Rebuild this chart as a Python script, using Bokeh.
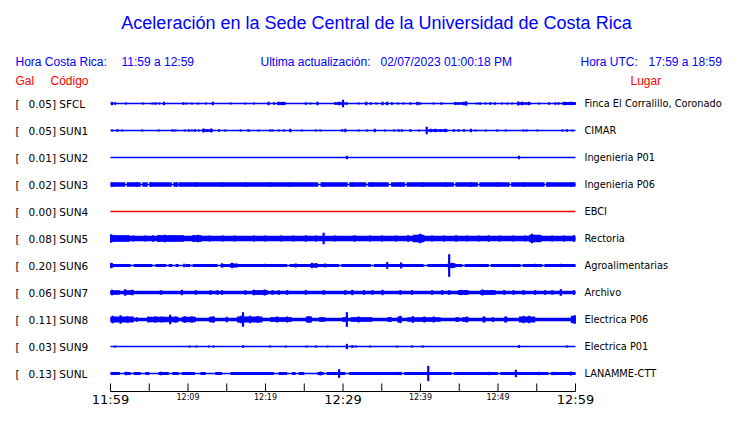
from bokeh.plotting import figure
from bokeh.models import Range1d, Label
from bokeh.embed import file_html
from bokeh.resources import INLINE
from bokeh.core.properties import value

# ---------------- data ----------------
TITLE = "Aceleración en la Sede Central de la Universidad de Costa Rica"
HORA_CR = "11:59 a 12:59"
HORA_UTC = "17:59 a 18:59"
ACTUALIZACION = "02/07/2023 01:00:18 PM"

STATIONS = ["SFCL", "SUN1", "SUN2", "SUN3", "SUN4", "SUN5", "SUN6", "SUN7", "SUN8", "SUN9", "SUNL"]
GAL = [0.05, 0.05, 0.01, 0.02, 0.00, 0.08, 0.20, 0.06, 0.11, 0.03, 0.13]
PLACES = ["Finca El Corralillo, Coronado", "CIMAR", "Ingenieria P01", "Ingenieria P06", "EBCI",
          "Rectoria", "Agroalimentarias", "Archivo", "Electrica P06", "Electrica P01", "LANAMME-CTT"]

# time axis: minutes after 11:59
T_START, T_END = 0, 60
TICK_MINUTES = list(range(0, 61, 5))
MAJOR_TICKS = [0, 30, 60]
MAJOR_LABELS = ["11:59", "12:29", "12:59"]
MINOR_TICKS = [10, 20, 40, 50]
MINOR_LABELS = ["12:09", "12:19", "12:39", "12:49"]

# noise floor half-amplitude of each trace (relative units), 0 = quiet trace
NOISE = [0, 0, 0, 6.5, 0, 8, 4.5, 5, 5.5, 0, 4.5]

# quiet intervals (minutes) where the noise floor drops to the bare trace
QUIET_SUN3 = [(1.9, 2.1), (3.9, 4.1), (4.8, 5.0), (7.9, 8.1), (8.6, 8.8), (26.8, 27.1), (30.6, 30.8),
              (33.0, 33.2), (35.9, 36.2), (38.0, 38.2), (44.3, 44.5), (47.4, 47.6), (51.5, 51.7), (56.0, 56.2)]
QUIET_SUN6 = [(2.6, 3.0), (5.4, 5.8), (7.2, 7.5), (8.0, 8.4), (8.8, 9.7), (10.3, 10.6), (13.8, 14.2),
              (22.8, 23.1), (29.5, 29.8), (33.6, 34.0), (40.4, 40.9), (45.4, 45.7), (48.8, 49.1),
              (52.9, 53.2), (55.7, 56.0)]
QUIET_SUNL = [(1.2, 1.8), (2.6, 3.0), (3.9, 4.5), (5.0, 6.2), (7.5, 8.0), (8.8, 9.2), (10.9, 11.6),
              (12.3, 13.5), (14.4, 15.5), (21.1, 21.7), (22.8, 23.4), (23.9, 24.3), (25.0, 26.7),
              (27.5, 27.9), (30.3, 30.8), (37.6, 37.9), (44.0, 44.3), (50.0, 50.3), (56.5, 56.8)]

# bursts: (start minute, end minute, half-amplitude)
BURSTS_SFCL = [(21.5, 22.6, 4.5), (29.0, 30.3, 4), (44.3, 46.0, 4), (52.5, 54.2, 4), (58.3, 60.0, 4.5)]
BURSTS_SUN1 = [(11.8, 13.2, 4), (41.0, 43.5, 4)]
BURSTS_SUN5 = [(0.0, 2.5, 10), (6.0, 9.5, 10), (10.5, 11.8, 10), (39.0, 40.5, 11), (54.0, 55.5, 11)]
BURSTS_SUN6 = [(15.4, 16.2, 6), (25.8, 26.8, 6), (43.5, 44.5, 7)]
BURSTS_SUN7 = [(0.0, 1.2, 7), (1.7, 3.0, 7), (18.3, 20.3, 7), (44.8, 46.2, 7), (47.7, 49.7, 7)]
BURSTS_SUN8 = [(0.0, 3.0, 9), (4.7, 8.8, 8), (9.2, 11.0, 8), (12.7, 13.5, 8), (16.3, 19.6, 9),
               (20.6, 23.4, 7), (25.2, 26.0, 9), (26.9, 27.7, 7), (29.9, 30.5, 7), (31.0, 33.8, 7),
               (35.7, 36.3, 7), (37.0, 37.6, 9), (38.3, 42.6, 7), (44.5, 45.0, 7), (45.4, 46.2, 7),
               (48.0, 48.4, 9), (49.2, 49.5, 7), (50.8, 51.2, 8), (52.7, 54.8, 9), (59.4, 60.0, 11)]

# spikes: (minute, half-amplitude)
SPIKES_SFCL = [(0.2, 5), (0.6, 4), (2.0, 3), (4.2, 3), (5.4, 3), (5.8, 4), (6.3, 3), (6.9, 5), (9.4, 4),
               (9.8, 3), (10.5, 3), (11.3, 3), (12.3, 3), (13.2, 5), (15.5, 3), (17.4, 3), (18.5, 3),
               (20.4, 5), (21.1, 4), (21.7, 5), (22.2, 5), (25.2, 4), (25.8, 3), (26.7, 5), (29.0, 4),
               (29.5, 5), (30.0, 11), (30.5, 4), (32.0, 3), (33.0, 5), (33.6, 4), (34.3, 3), (35.1, 5),
               (35.7, 5), (36.3, 4), (37.1, 3), (37.8, 3), (38.7, 4), (39.6, 5), (39.9, 4), (41.7, 3),
               (42.7, 4), (44.5, 4), (45.6, 5), (45.9, 7), (47.3, 3), (47.7, 4), (48.4, 3), (49.0, 4),
               (49.6, 4), (50.5, 3), (51.2, 3), (51.8, 3), (52.6, 6), (53.1, 5), (54.0, 5), (55.3, 3),
               (56.6, 4), (57.4, 4), (57.8, 4), (58.6, 5), (59.4, 5), (59.9, 4)]
SPIKES_SUN1 = [(0.2, 3), (0.9, 4), (1.5, 3), (4.1, 3), (6.2, 3), (8.0, 4), (8.4, 3), (9.6, 3), (10.1, 4),
               (10.5, 3), (10.9, 4), (11.4, 3), (12.0, 6), (12.5, 4), (13.0, 6), (14.0, 4), (14.8, 3),
               (16.8, 3), (17.8, 4), (19.1, 3), (20.6, 3), (20.9, 3), (21.7, 3), (22.4, 3), (23.2, 5),
               (24.7, 3), (26.5, 3), (27.1, 3), (29.9, 4), (30.3, 5), (32.0, 3), (33.1, 3), (34.1, 5),
               (35.4, 3), (36.6, 3), (37.2, 4), (37.6, 4), (38.7, 4), (39.8, 3), (40.8, 11), (41.3, 5),
               (41.9, 5), (42.6, 4), (43.2, 5), (44.3, 4), (44.9, 4), (45.6, 4), (46.5, 5), (47.1, 3),
               (48.4, 3), (49.9, 3), (51.0, 3), (53.3, 3), (53.7, 3), (55.1, 3), (58.3, 3), (58.9, 4),
               (59.6, 3)]
SPIKES_SUN2 = [(30.5, 5), (52.7, 5)]
SPIKES_SUN3 = [(0.2, 7), (3.4, 7), (5.2, 7), (8.6, 7), (11.0, 7), (14.4, 7), (17.4, 7), (20.6, 7),
               (23.2, 7), (27.5, 7), (31.2, 7), (33.8, 7), (37.4, 7), (40.3, 7), (43.2, 7), (46.5, 7),
               (50.0, 7), (53.3, 7), (56.6, 7), (59.4, 7)]
SPIKES_SUN4 = []
SPIKES_SUN5 = [(0.1, 13), (0.6, 10), (1.2, 9), (2.0, 9), (3.0, 9), (4.5, 9), (5.5, 10), (6.3, 10),
               (7.0, 11), (7.7, 10), (8.3, 10), (9.0, 9), (10.8, 10), (11.3, 11), (12.8, 9), (14.5, 9),
               (16.0, 9), (18.5, 9), (20.0, 9), (22.0, 9), (23.6, 9), (25.2, 10), (26.5, 9), (27.5, 17),
               (29.0, 9), (31.5, 10), (33.5, 9), (35.0, 9), (36.8, 9), (38.4, 10), (39.8, 12), (40.0, 14),
               (41.5, 9), (43.0, 9), (44.6, 10), (46.0, 9), (47.5, 9), (48.8, 10), (50.2, 9), (52.0, 9),
               (53.5, 9), (54.4, 14), (55.5, 10), (57.0, 9), (58.5, 9), (59.8, 10)]
SPIKES_SUN6 = [(0.1, 8), (0.2, 7), (9.5, 5), (14.4, 7), (15.7, 8), (16.3, 6), (19.9, 5), (23.9, 6),
               (26.0, 8), (26.5, 7), (27.7, 6), (35.7, 10), (37.5, 9), (43.7, 34), (44.1, 8), (54.8, 5),
               (58.1, 5)]
SPIKES_SUN7 = [(0.2, 8), (1.9, 10), (2.8, 8), (6.5, 7), (9.2, 8), (11.0, 7), (12.9, 7), (13.8, 7),
               (14.4, 7), (17.4, 7), (18.5, 8), (19.9, 9), (20.9, 7), (21.7, 7), (22.8, 7), (25.2, 7),
               (27.5, 7), (30.3, 7), (31.2, 8), (32.7, 7), (33.8, 7), (35.1, 8), (37.4, 7), (38.9, 7),
               (41.5, 7), (42.8, 7), (43.7, 7), (45.2, 8), (45.8, 7), (48.0, 9), (49.2, 7), (50.8, 7),
               (52.0, 7), (53.3, 7), (54.8, 7), (56.1, 7), (57.0, 7), (58.1, 10), (59.8, 7)]
SPIKES_SUN8 = [(0.3, 11), (1.3, 13), (2.2, 10), (3.4, 7), (4.9, 8), (5.8, 10), (6.6, 9), (7.7, 14),
               (8.4, 10), (9.6, 10), (10.5, 10), (13.2, 10), (15.0, 8), (16.8, 11), (17.1, 22),
               (18.0, 11), (19.0, 10), (21.5, 9), (22.8, 9), (25.6, 10), (30.5, 22), (32.0, 9),
               (37.4, 11), (39.0, 10), (40.5, 9), (41.7, 9), (46.0, 9), (51.0, 9), (53.3, 11), (54.0, 11),
               (59.9, 13)]
SPIKES_SUN9 = [(0.6, 3), (10.2, 3), (11.1, 3), (12.7, 3), (13.3, 3), (17.1, 4), (20.6, 3), (22.6, 3),
               (25.3, 3), (26.5, 3), (28.0, 3), (30.5, 8), (31.2, 4), (31.7, 3), (33.5, 3), (37.0, 3),
               (38.9, 3), (40.3, 3), (52.7, 4), (58.9, 3)]
SPIKES_SUNL = [(2.0, 5), (6.5, 5), (27.1, 6), (29.5, 13), (37.4, 5), (41.0, 23), (48.8, 5), (52.3, 11),
               (55.3, 5), (57.2, 5), (59.4, 6)]

QUIET = [[], [], [], QUIET_SUN3, [], [], QUIET_SUN6, [], [], [], QUIET_SUNL]
BURSTS = [BURSTS_SFCL, BURSTS_SUN1, [], [], [], BURSTS_SUN5, BURSTS_SUN6, BURSTS_SUN7, BURSTS_SUN8, [], []]
SPIKES = [SPIKES_SFCL, SPIKES_SUN1, SPIKES_SUN2, SPIKES_SUN3, SPIKES_SUN4, SPIKES_SUN5, SPIKES_SUN6,
          SPIKES_SUN7, SPIKES_SUN8, SPIKES_SUN9, SPIKES_SUNL]

# ---------------- layout / style ----------------
W, H = 724, 407
PLOT_X0, PLOT_X1 = 110, 575        # pixel extent of the traces inside the figure
ROW0_Y, ROW_DY = 103, 27           # pixel centre of first row and row spacing
AMP_UNIT = 1.0 / 81                # row heights per amplitude unit
BLUE = "#0000ff"
RED = "#ff0000"
TRACE_COLORS = [BLUE] * len(STATIONS)
TRACE_COLORS[4] = "#e00000"

px_per_min = (PLOT_X1 - PLOT_X0) / (T_END - T_START)
x_range = Range1d(T_START - PLOT_X0 / px_per_min, T_START + (W - PLOT_X0) / px_per_min)
y_range = Range1d((H - ROW0_Y) / ROW_DY, -ROW0_Y / ROW_DY)

p = figure(width=W, height=H, x_range=x_range, y_range=y_range, output_backend="svg",
           toolbar_location=None, x_axis_type=None, y_axis_type=None, min_border=0,
           outline_line_color=None, background_fill_color="white", border_fill_color="white")
p.min_border_left = p.min_border_right = p.min_border_top = p.min_border_bottom = 0

BAR_W = 0.28  # minutes


def add_label(x, ytop, text, color, size, font="Liberation Sans", align="left"):
    p.add_layout(Label(x=x, y=H - ytop, x_units="screen", y_units="screen", text=text,
                       text_color=color, text_font=font, text_font_size=size,
                       text_baseline="middle", text_align=align))


add_label(376, 22, TITLE, BLUE, "18px", align="center")
add_label(15, 61, "Hora Costa Rica:", BLUE, "12px")
add_label(121, 61, HORA_CR, BLUE, "12px")
add_label(260, 61, "Ultima actualización:", BLUE, "12px")
add_label(380, 61, ACTUALIZACION, BLUE, "12px")
add_label(580, 61, "Hora UTC:", BLUE, "12px")
add_label(648, 61, HORA_UTC, BLUE, "12px")
add_label(15, 80, "Gal", RED, "12px")
add_label(50, 80, "Código", RED, "12px")
add_label(630, 80, "Lugar", RED, "12px")

for i, st in enumerate(STATIONS):
    col = TRACE_COLORS[i]
    # bare trace
    p.segment(x0=[T_START], x1=[T_END], y0=[i], y1=[i], line_color=col, line_width=1.4)
    # noise floor band
    if NOISE[i] > 0:
        h = NOISE[i] * AMP_UNIT
        lefts, rights = [], []
        cur = T_START
        for a, b in sorted(QUIET[i]):
            if a > cur:
                lefts.append(cur)
                rights.append(a)
            cur = max(cur, b)
        if cur < T_END:
            lefts.append(cur)
            rights.append(T_END)
        p.quad(left=lefts, right=rights, top=[i - h] * len(lefts), bottom=[i + h] * len(lefts),
               fill_color=col, line_color=None)
    # bursts
    if BURSTS[i]:
        p.quad(left=[b[0] for b in BURSTS[i]], right=[b[1] for b in BURSTS[i]],
               top=[i - b[2] * AMP_UNIT for b in BURSTS[i]],
               bottom=[i + b[2] * AMP_UNIT for b in BURSTS[i]],
               fill_color=col, line_color=None)
    # spikes
    if SPIKES[i]:
        p.vbar(x=[s[0] for s in SPIKES[i]], width=BAR_W,
               top=[i - s[1] * AMP_UNIT for s in SPIKES[i]],
               bottom=[i + s[1] * AMP_UNIT for s in SPIKES[i]],
               fill_color=col, line_color=None)
    # labels
    p.add_layout(Label(x=15, x_units="screen", y=i, y_units="data", text="[",
                       text_font="DejaVu Sans", text_font_size="10.5px", text_color="black",
                       text_baseline="middle"))
    p.add_layout(Label(x=28, x_units="screen", y=i, y_units="data", text=f"{GAL[i]:.2f}] {st}",
                       text_font="DejaVu Sans", text_font_size="10.5px", text_color="black",
                       text_baseline="middle"))
    p.add_layout(Label(x=584, x_units="screen", y=i, y_units="data", text=PLACES[i],
                       text_font="DejaVu Sans", text_font_size="9.8px", text_color="black",
                       text_baseline="middle"))

# time axis (lifted so its labels fit inside the figure)
AXIS_Y = (391 - ROW0_Y) / ROW_DY
TICK_LEN = 8 / ROW_DY
p.segment(x0=[T_START], x1=[T_END], y0=[AXIS_Y], y1=[AXIS_Y], line_color="black", line_width=1)
p.segment(x0=TICK_MINUTES, x1=TICK_MINUTES, y0=[AXIS_Y] * len(TICK_MINUTES),
          y1=[AXIS_Y - TICK_LEN] * len(TICK_MINUTES), line_color="black", line_width=1)
p.text(x=MAJOR_TICKS, y=[AXIS_Y + 0.5 / ROW_DY] * 3, text=MAJOR_LABELS, text_font=value("DejaVu Sans"),
       text_font_size="13px", text_align="center", text_baseline="top", text_color="black")
p.text(x=MINOR_TICKS, y=[AXIS_Y + 1.5 / ROW_DY] * 4, text=MINOR_LABELS, text_font=value("DejaVu Sans"),
       text_font_size="8px", text_align="center", text_baseline="top", text_color="black")

open("out.html", "w").write(file_html(p, INLINE))
